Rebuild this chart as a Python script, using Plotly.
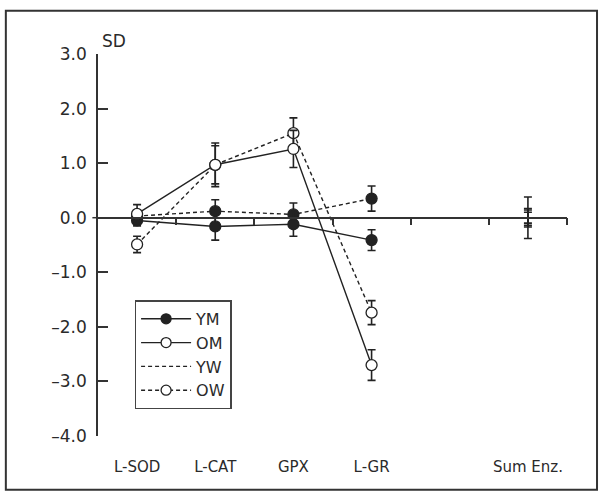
import plotly.graph_objects as go

categories = ["L-SOD", "L-CAT", "GPX", "L-GR", "Sum Enz."]
cat_pos = [0, 1, 2, 3, 5]

series_names = ["YM", "OM", "YW", "OW"]
YM = [-0.05, -0.16, -0.12, -0.41]
YM_err = [0.10, 0.25, 0.22, 0.19]
OM = [0.07, 0.97, 1.26, -2.70]
OM_err = [0.17, 0.40, 0.34, 0.28]
YW = [0.03, 0.12, 0.06, 0.35]
YW_err = [0.10, 0.21, 0.21, 0.23]
OW = [-0.49, 0.97, 1.55, -1.74]
OW_err = [0.15, 0.35, 0.28, 0.22]

sum_enz = [0.0, 0.0, 0.0, 0.0]
sum_enz_err = [0.38, 0.17, 0.10, 0.14]

y_ticks = [3, 2, 1, 0, -1, -2, -3, -4]
y_ticktext = ["3.0", "2.0", "1.0", "0.0", "\u20131.0", "\u20132.0", "\u20133.0", "\u20134.0"]

INK = "#222222"
TXT = "#2a2a2a"
FONT = "DejaVu Sans"

styles = {
    "YM": dict(dash="solid", fill=INK, legend_marker=True),
    "OM": dict(dash="solid", fill="white", legend_marker=True),
    "YW": dict(dash="4px,3px", fill=INK, legend_marker=False),
    "OW": dict(dash="4px,3px", fill="white", legend_marker=True),
}
data = {"YM": (YM, YM_err), "OM": (OM, OM_err), "YW": (YW, YW_err), "OW": (OW, OW_err)}

fig = go.Figure()
main_x = cat_pos[:4]
for name in ["YW", "YM", "OW", "OM"]:
    vals, errs = data[name]
    st = styles[name]
    fig.add_trace(go.Scatter(
        x=main_x, y=vals, mode="lines+markers", showlegend=False,
        line=dict(color=INK, width=1.4, dash=st["dash"]),
        marker=dict(size=11, color=st["fill"], line=dict(color=INK, width=1.3)),
        error_y=dict(type="data", array=errs, visible=True, color=INK, thickness=1.6, width=4),
    ))

# Sum Enz. error bars only
for i, name in enumerate(series_names):
    fig.add_trace(go.Scatter(
        x=[cat_pos[4]], y=[sum_enz[i]], mode="markers", showlegend=False,
        marker=dict(size=1, color="rgba(0,0,0,0)"),
        error_y=dict(type="data", array=[sum_enz_err[i]], visible=True, color=INK, thickness=1.6, width=4),
    ))

# Legend entries
for name in series_names:
    st = styles[name]
    fig.add_trace(go.Scatter(
        x=[None], y=[None], name=name,
        mode="lines+markers" if st["legend_marker"] else "lines",
        line=dict(color=INK, width=1.4, dash=st["dash"]),
        marker=dict(size=10, color=st["fill"], line=dict(color=INK, width=1.3)),
    ))

# dummy trace for the zero-line axis
fig.add_trace(go.Scatter(x=[None], y=[None], xaxis="x2", showlegend=False, hoverinfo="skip"))

fig.update_layout(
    width=605, height=498,
    margin=dict(l=98, r=38, t=54, b=62),
    paper_bgcolor="white", plot_bgcolor="white",
    font=dict(family=FONT, color=TXT),
    xaxis=dict(
        range=[-0.5, 5.5], tickvals=cat_pos, ticktext=categories,
        showgrid=False, zeroline=False, showline=False,
        ticks="outside", ticklen=17, tickcolor="rgba(0,0,0,0)",
        tickfont=dict(size=15, family=FONT, color=TXT),
    ),
    xaxis2=dict(
        range=[-0.5, 5.5], overlaying="x", anchor="free", position=4 / 7, side="bottom",
        tickvals=[0.5, 1.5, 2.5, 3.5, 4.5, 5.5], showticklabels=False,
        ticks="outside", ticklen=7, tickwidth=1.5, tickcolor="#333",
        showline=True, linecolor="#333", linewidth=1.5,
        showgrid=False, zeroline=False,
    ),
    yaxis=dict(
        range=[-4, 3], tickvals=y_ticks, ticktext=y_ticktext,
        showgrid=False, zeroline=False,
        showline=True, linecolor="#333", linewidth=1.5,
        ticks="inside", ticklen=10, tickwidth=1.5, tickcolor="#333",
        ticklabelstandoff=6,
        tickfont=dict(size=17, family=FONT, color=TXT),
    ),
    legend=dict(
        x=0.078, y=0.355, xanchor="left", yanchor="top",
        bordercolor="#444", borderwidth=1.5, bgcolor="white",
        font=dict(size=16, family=FONT, color=TXT),
        itemwidth=50, tracegroupgap=0,
    ),
    annotations=[dict(
        text="SD", xref="paper", yref="paper", x=0.005, y=1.033,
        xanchor="left", yanchor="middle", showarrow=False,
        font=dict(size=17, family=FONT, color=TXT),
    )],
    shapes=[
        dict(type="rect", xref="paper", yref="paper",
             x0=-0.1965, x1=1.064, y0=-0.141, y1=1.113,
             line=dict(color="#333", width=2)),
        dict(type="line", xref="paper", yref="y", x0=-0.012, x1=0, y0=0, y1=0,
             line=dict(color="#333", width=1.5)),
    ],
)

fig.write_html("out.html", config={"displayModeBar": False},
               post_script="document.body.style.margin='0';")
